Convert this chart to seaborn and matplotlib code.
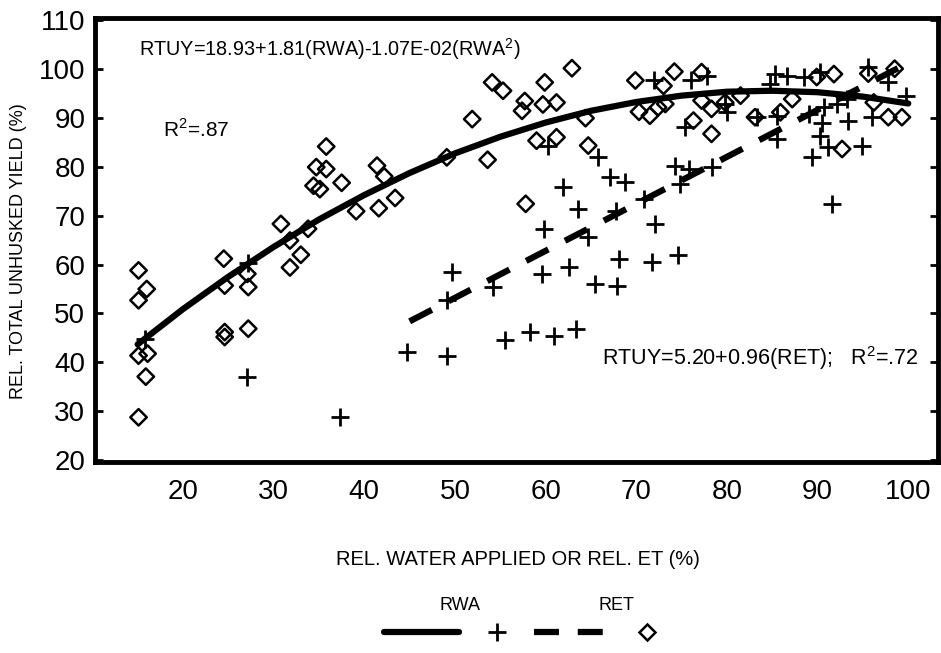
import numpy as np
import pandas as pd
import matplotlib
matplotlib.use('Agg')
from matplotlib import pyplot as plt
from matplotlib.lines import Line2D
from matplotlib.ticker import MultipleLocator
import seaborn as sns

### data
diamond_x = [15.1, 16.0, 15.1, 15.1, 16.1, 15.9, 15.1,
             24.5, 24.6, 24.6, 24.6, 27.1, 27.2, 27.2,
             30.8, 31.8, 33.0, 31.8, 33.8,
             34.7, 35.8, 35.8, 34.4, 35.1, 37.5,
             41.4, 42.2, 39.1, 41.6, 43.4,
             49.1, 51.9, 53.6, 54.1, 55.3, 57.7, 57.4, 57.8,
             59.9, 59.7, 61.2, 62.9, 64.4, 59.0, 61.2, 64.7,
             69.9, 73.0, 74.2, 77.2, 70.3, 71.5, 72.4, 73.2, 77.2, 78.3, 76.3, 78.3,
             79.8, 81.5, 83.1, 85.9, 87.2, 91.8, 89.9, 95.6, 96.2, 97.8, 99.3, 92.7, 98.5]
diamond_y = [58.8, 55.0, 52.7, 41.4, 41.8, 37.1, 28.8,
             61.2, 55.7, 46.2, 45.2, 58.1, 55.4, 46.9,
             68.3, 59.4, 62.0, 64.9, 67.3,
             79.9, 79.5, 84.1, 76.1, 75.4, 76.7,
             80.2, 78.0, 70.9, 71.5, 73.6,
             81.9, 89.7, 81.4, 97.2, 95.5, 93.4, 91.4, 72.4,
             97.2, 92.7, 93.1, 100.1, 89.9, 85.3, 86.0, 84.3,
             97.6, 96.5, 99.4, 99.3, 91.2, 90.4, 92.1, 92.8, 93.5, 91.8, 89.4, 86.7,
             93.1, 94.5, 90.1, 91.1, 93.8, 98.9, 98.3, 99.0, 93.1, 90.1, 90.1, 83.6, 100.0]

plus_x = [27.1, 37.3, 44.7, 49.1, 49.7, 49.1, 54.2, 55.5, 58.3, 60.9, 63.4,
          59.6, 62.6, 65.5, 67.9, 68.1, 71.7, 74.6, 59.8, 64.7, 63.6, 67.8, 70.8, 72.1,
          61.9, 67.1, 68.8, 65.8, 60.3, 74.3, 75.8, 74.8, 78.3, 71.9, 76.0, 77.8, 75.4,
          79.8, 80.0, 83.3, 85.5, 85.5, 89.0, 89.4, 90.3, 90.5, 91.2, 91.6, 93.4, 94.9, 96.0, 99.7, 97.8, 95.6,
          90.3, 88.5, 86.6, 85.3, 84.8, 90.7, 92.1, 93.2, 15.8, 27.2]
plus_y = [37.0, 28.8, 42.1, 41.4, 58.4, 52.7, 55.4, 44.5, 46.2, 45.5, 46.9,
          58.1, 59.4, 56.0, 55.7, 61.2, 60.5, 62.0, 67.3, 65.6, 71.4, 71.0, 73.4, 68.3,
          75.8, 77.8, 76.8, 81.9, 84.3, 80.2, 79.5, 76.4, 79.9, 97.6, 97.6, 98.6, 88.0,
          92.8, 91.1, 90.1, 90.4, 85.6, 90.7, 81.9, 86.3, 89.0, 84.0, 72.4, 89.4, 84.3, 90.1, 94.5, 97.3, 100.3,
          99.3, 98.3, 98.6, 98.9, 96.9, 92.1, 92.8, 93.8, 44.8, 60.3]

# fitted curves as drawn
rwa_x = [15, 20, 25, 30, 35, 40, 45, 50, 55, 60, 65, 70, 75, 80, 85, 90, 95, 100]
rwa_y = [43.7, 50.9, 57.5, 63.6, 69.2, 74.2, 78.7, 82.7, 86.1, 89.0, 91.4, 93.2, 94.5, 95.3, 95.5, 95.2, 94.3, 92.9]
ret_x = [45, 100]
ret_y = [48.4, 101.2]

x_ticks = [20, 30, 40, 50, 60, 70, 80, 90, 100]
y_ticks = [20, 30, 40, 50, 60, 70, 80, 90, 100, 110]

sns.set_style('white')
plt.rcParams['font.family'] = ['Liberation Sans', 'DejaVu Sans']
plt.rcParams['mathtext.fontset'] = 'custom'
plt.rcParams['mathtext.rm'] = 'Liberation Sans'
plt.rcParams['text.color'] = 'black'
plt.rcParams['axes.labelcolor'] = 'black'
plt.rcParams['xtick.color'] = 'black'
plt.rcParams['ytick.color'] = 'black'

fig = plt.figure(figsize=(9.41, 6.53), dpi=100)
ax = fig.add_axes([0.101, 0.292, 0.896, 0.68])

sns.lineplot(x=rwa_x, y=rwa_y, ax=ax, color='black', lw=4.5)
sns.lineplot(x=ret_x, y=ret_y, ax=ax, color='black', lw=4.5, linestyle=(0, (4, 3)))
sns.scatterplot(x=diamond_x, y=diamond_y, ax=ax, marker='D', s=70, facecolor='none',
                edgecolor='black', linewidth=1.8)
sns.scatterplot(x=plus_x, y=plus_y, ax=ax, marker='+', s=180, color='black', linewidth=2.0)

ax.set_xlim(10.3, 103.3)
ax.set_ylim(19.6, 110.3)
ax.set_xticks(x_ticks)
ax.set_yticks(y_ticks)
ax.xaxis.set_minor_locator(MultipleLocator(2))
ax.yaxis.set_minor_locator(MultipleLocator(2))
ax.tick_params(axis='both', which='major', direction='in', labelsize=20, width=2)
ax.tick_params(axis='x', which='major', length=9, pad=12, top=False)
ax.tick_params(axis='y', which='major', length=6, pad=7, left=True, right=True)
ax.tick_params(axis='both', which='minor', direction='in', length=4, width=2)
ax.tick_params(axis='y', which='minor', right=False)
ax.tick_params(axis='x', which='minor', top=False)
for s in ax.spines.values():
    s.set_linewidth(3.5)
    s.set_color('black')

ax.set_xlabel('REL. WATER APPLIED OR REL. ET (%)', fontsize=14.5)
ax.set_ylabel('REL. TOTAL UNHUSKED YIELD (%)', fontsize=13)
ax.xaxis.set_label_coords(0.502, -0.198)
ax.yaxis.set_label_coords(-0.081, 0.475)

ax.text(15.2, 104.1, 'RTUY=18.93+1.81(RWA)-1.07E-02(RWA$^2$)', fontsize=14.3, va='center', ha='left')
ax.text(17.8, 87.5, 'R$^2$=.87', fontsize=15, va='center', ha='left')
ax.text(66.2, 40.8, 'RTUY=5.20+0.96(RET);   R$^2$=.72', fontsize=15.5, va='center', ha='left')

### legend under the chart
handles = [Line2D([], [], color='black', lw=4.5),
           Line2D([], [], color='black', marker='+', ms=13, mew=2, ls='none'),
           Line2D([], [], color='black', lw=4.5, linestyle=(0, (4, 3))),
           Line2D([], [], color='black', marker='D', ms=8, mew=1.8, mfc='none', ls='none')]
fig.legend(handles, ['', '', '', ''], ncol=4, loc='center', bbox_to_anchor=(0.568, 0.031),
           frameon=False, fontsize=10, handlelength=5.4, handletextpad=0, columnspacing=0)
fig.text(0.489, 0.073, 'RWA', fontsize=13, ha='center', va='center')
fig.text(0.655, 0.073, 'RET', fontsize=13, ha='center', va='center')

plt.savefig('out.png', dpi=100)
